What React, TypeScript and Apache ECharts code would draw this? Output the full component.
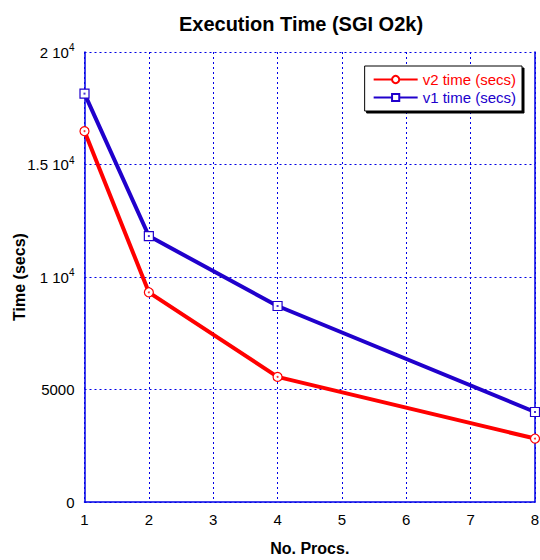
import React, { useEffect, useRef } from "react";
import * as echarts from "echarts";

const procs = [1, 2, 4, 8];
const v2Time = [16480, 9320, 5560, 2820];
const v1Time = [18150, 11820, 8710, 4000];
const seriesNames = ["v2 time (secs)", "v1 time (secs)"];
const xTicks = [1, 2, 3, 4, 5, 6, 7, 8];

const FONT = "'Liberation Sans', Arial, Helvetica, sans-serif";
const RED = "#ff0000";
const BLUE = "#2000cc";
const AXIS = "#0000e6";

export default function App() {
  const ref = useRef<HTMLDivElement>(null);
  useEffect(() => {
    if (!ref.current) return;
    const chart = echarts.init(ref.current, undefined, { renderer: "svg" });
    const toPairs = (ys: number[]) => procs.map((p, i) => [p, ys[i]]);
    const yLabel = (v: number) => {
      if (v === 0) return "0";
      if (v === 5000) return "5000";
      const m = v / 10000;
      return `{a|${m} 10}{s|4}`;
    };
    chart.setOption({
      animation: false,
      backgroundColor: "#ffffff",
      textStyle: { fontFamily: FONT },
      title: {
        text: "Execution Time (SGI O2k)",
        left: 296,
        textAlign: "center",
        top: 9,
        textStyle: { fontFamily: FONT, fontSize: 20, fontWeight: "bold", color: "#000" },
      },
      grid: { left: 84.5, right: 5, top: 52, bottom: 58, containLabel: false, outerBoundsMode: "none" },
      xAxis: {
        type: "value",
        min: 1,
        max: 8,
        interval: 1,
        name: "No. Procs.",
        nameLocation: "middle",
        nameGap: 38,
        nameMoveOverlap: false,
        nameTextStyle: { fontFamily: FONT, fontSize: 16, fontWeight: "bold", color: "#000" },
        axisLine: { show: true, lineStyle: { color: AXIS, width: 1.5 } },
        axisTick: { show: false },
        axisLabel: {
          margin: 10,
          fontSize: 15,
          color: "#000",
          fontFamily: FONT,
          formatter: (v: number) => (xTicks.includes(v) ? String(v) : ""),
        },
        splitLine: { show: true, lineStyle: { color: AXIS, type: [2, 3], width: 1 } },
      },
      yAxis: [
        {
          type: "value",
          min: 0,
          max: 20000,
          interval: 5000,
          name: "Time (secs)",
          nameLocation: "middle",
          nameGap: 57,
          nameMoveOverlap: false,
          nameRotate: 90,
          nameTextStyle: { fontFamily: FONT, fontSize: 16, fontWeight: "bold", color: "#000" },
          axisLine: { show: true, lineStyle: { color: AXIS, width: 1.5 } },
          axisTick: { show: false },
          axisLabel: {
            margin: 10,
            fontSize: 15,
            color: "#000",
            fontFamily: FONT,
            formatter: yLabel,
            rich: {
              a: { fontSize: 15, color: "#000", fontFamily: FONT },
              s: { fontSize: 10, color: "#000", fontFamily: FONT, padding: [0, 0, 9, 0] },
            },
          },
          splitLine: { show: true, lineStyle: { color: AXIS, type: [2, 3], width: 1 } },
        },
        {
          type: "value",
          min: 0,
          max: 20000,
          interval: 5000,
          position: "right",
          axisLine: { show: true, lineStyle: { color: AXIS, width: 1.5 } },
          axisTick: { show: false },
          axisLabel: { show: false },
          splitLine: { show: false },
        },
      ],
      legend: {
        right: 18,
        top: 66,
        orient: "vertical",
        itemGap: 3,
        itemWidth: 44,
        itemHeight: 9,
        padding: [6, 6, 6, 8],
        backgroundColor: "#ffffff",
        borderColor: "#000",
        borderWidth: 1,
        shadowColor: "#000",
        shadowOffsetX: 2,
        shadowOffsetY: 2,
        shadowBlur: 0,
        textStyle: { fontFamily: FONT, fontSize: 15 },
        data: [
          { name: seriesNames[0], textStyle: { color: RED } },
          { name: seriesNames[1], textStyle: { color: BLUE } },
        ],
      },
      series: [
        {
          name: seriesNames[0],
          type: "line",
          data: toPairs(v2Time),
          color: RED,
          lineStyle: { color: RED, width: 4 },
          symbol: "circle",
          symbolSize: 9,
          itemStyle: { color: "#ffffff", borderColor: RED, borderWidth: 1.2 },
          z: 3,
        },
        {
          name: seriesNames[1],
          type: "line",
          data: toPairs(v1Time),
          color: BLUE,
          lineStyle: { color: BLUE, width: 4 },
          symbol: "rect",
          symbolSize: 9,
          itemStyle: { color: "#ffffff", borderColor: BLUE, borderWidth: 1.2 },
          z: 3,
        },
        {
          type: "scatter",
          data: toPairs(v2Time),
          symbol: "circle",
          symbolSize: 2,
          itemStyle: { color: RED },
          silent: true,
          z: 4,
        },
        {
          type: "scatter",
          data: toPairs(v1Time),
          symbol: "rect",
          symbolSize: 2,
          itemStyle: { color: BLUE },
          silent: true,
          z: 4,
        },
      ],
    });
    return () => chart.dispose();
  }, []);
  return (
    <div
      ref={ref}
      style={{ width: 540, height: 560, position: "absolute", left: 0, top: 0 }}
    />
  );
}
